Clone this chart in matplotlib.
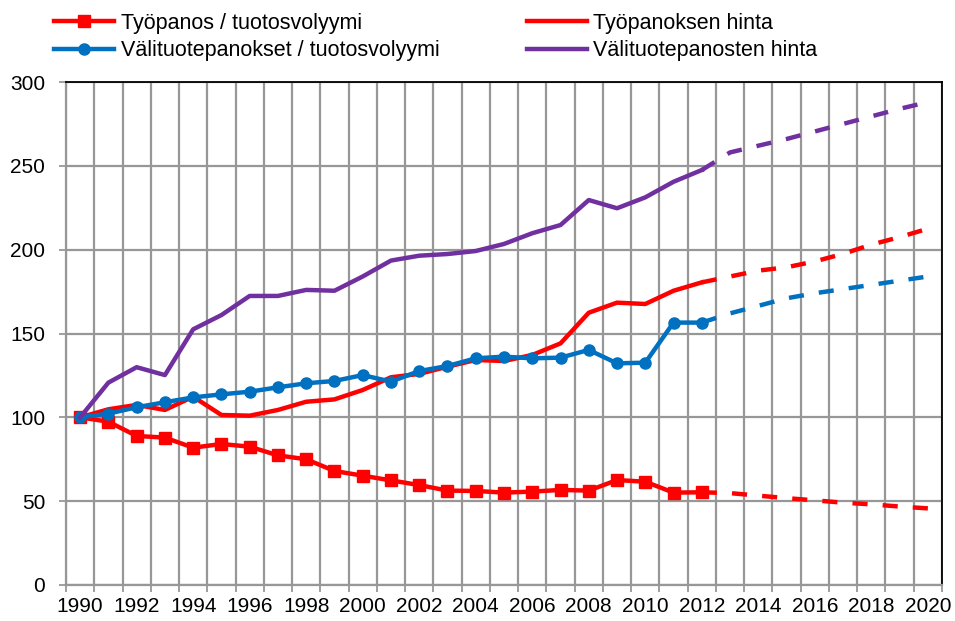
import numpy as np
import matplotlib
matplotlib.use("Agg")
import matplotlib.pyplot as plt
from matplotlib.ticker import MultipleLocator

plt.rcParams['font.family'] = ['Liberation Sans', 'DejaVu Sans']

# Historical data 1990-2012 (1990 = 100)
years = list(range(1990, 2013))
tyopanos = [100, 97.4, 88.9, 87.9, 81.9, 84.1, 82.5, 77.3, 75.0, 68.0, 65.2, 62.4,
            59.6, 56.3, 56.1, 55.1, 55.7, 56.7, 56.3, 62.6, 61.6, 55.1, 55.3]
valituote = [100, 102.2, 106.0, 109.0, 111.9, 113.7, 115.3, 117.9, 120.3, 121.7, 125.2, 121.3,
             127.6, 130.6, 135.2, 136.2, 135.2, 135.6, 140.2, 132.2, 132.6, 156.5, 156.5]
tyo_hinta = [100, 104.8, 107.4, 104.4, 112.3, 101.4, 101.0, 104.4, 109.3, 110.7, 116.3, 123.9,
             125.9, 130.2, 134.2, 133.6, 137.2, 144.1, 162.4, 168.4, 167.6, 175.5, 180.5]
val_hinta = [100, 120.7, 129.9, 125.2, 152.5, 161.0, 172.4, 172.4, 176.0, 175.5, 184.0, 193.5,
             196.4, 197.4, 199.2, 203.4, 209.8, 214.7, 229.6, 224.7, 231.2, 240.5, 247.5]

# Projections 2012-2020
proj_years = list(range(2012, 2021))
tyopanos_proj = [55.3, 54.8, 53.3, 51.8, 50.5, 49.1, 48.1, 46.8, 45.7]
valituote_proj = [156.5, 162.0, 166.5, 171.0, 174.0, 176.5, 179.0, 181.5, 184.0]
tyo_hinta_proj = [180.5, 184.0, 187.5, 189.5, 193.0, 197.5, 203.0, 207.5, 212.5]
val_hinta_proj = [247.5, 258.0, 262.0, 266.0, 270.5, 275.0, 279.5, 284.0, 288.0]

labels = ["Työpanos / tuotosvolyymi", "Välituotepanokset / tuotosvolyymi",
          "Työpanoksen hinta", "Välituotepanosten hinta"]

RED = '#FF0000'
BLUE = '#0070C0'
PURPLE = '#7030A0'
GRID = '#979797'
lw = 3.2
dash = (0, (3.4, 3.4))

fig = plt.figure(figsize=(9.55, 6.21), dpi=100)
ax = fig.add_axes([66/955, 1-585/621, (942-66)/955, (585-82)/621])

# dashed projections first (under the solid lines)
ax.plot(proj_years, tyopanos_proj, color=RED, lw=lw, linestyle=dash)
ax.plot(proj_years, valituote_proj, color=BLUE, lw=lw, linestyle=dash)
ax.plot(proj_years, tyo_hinta_proj, color=RED, lw=lw, linestyle=dash)
ax.plot(proj_years, val_hinta_proj, color=PURPLE, lw=lw, linestyle=dash)

l1, = ax.plot(years, tyopanos, color=RED, lw=lw, marker='s', markersize=8)
l2, = ax.plot(years, tyo_hinta, color=RED, lw=lw)
l3, = ax.plot(years, valituote, color=BLUE, lw=lw, marker='o', markersize=8)
l4, = ax.plot(years, val_hinta, color=PURPLE, lw=lw)

ax.set_xlim(1989.5, 2020.5)
ax.set_ylim(0, 300)
ax.xaxis.set_major_locator(MultipleLocator(2))
ax.xaxis.set_minor_locator(MultipleLocator(1, offset=0.5))
ax.yaxis.set_major_locator(MultipleLocator(50))

ax.grid(False)
ax.grid(True, which='minor', axis='x', color=GRID, lw=1.6)
ax.grid(True, which='major', axis='y', color=GRID, lw=1.6)
ax.set_axisbelow(True)

ax.tick_params(axis='x', which='major', length=0, labelsize=15, pad=9)
ax.tick_params(axis='x', which='minor', length=5, color=GRID, width=1.3)
ax.tick_params(axis='y', which='major', length=5, color=GRID, width=1.3, labelsize=15, pad=10)

for s in ['left', 'bottom']:
    ax.spines[s].set_color(GRID)
    ax.spines[s].set_linewidth(1.6)
for s in ['top', 'right']:
    ax.spines[s].set_color('black')
    ax.spines[s].set_linewidth(1.3)

fig.legend([l1, l3, l2, l4], labels, ncol=2, loc='upper left',
           bbox_to_anchor=(41/955, 1.0), frameon=False, fontsize=15.5,
           handlelength=2.8, handletextpad=0.3, columnspacing=4.05,
           labelspacing=0.3, borderaxespad=0.2, markerscale=1.0)

fig.savefig('out.png', dpi=100)
